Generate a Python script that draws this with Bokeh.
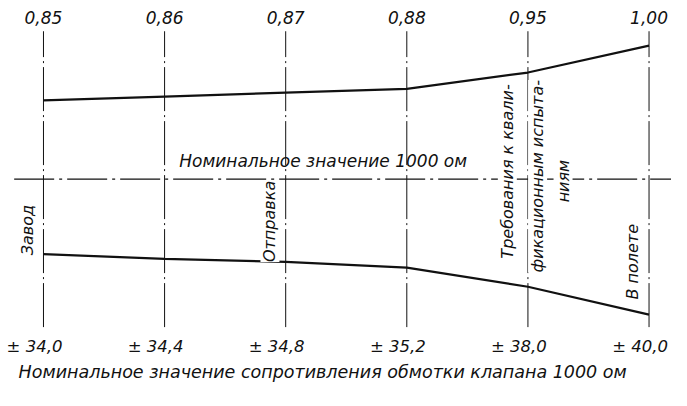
import numpy as np
from bokeh.plotting import figure
from bokeh.models import ColumnDataSource, Range1d
from bokeh.core.properties import value
from bokeh.embed import file_html
from bokeh.resources import INLINE

# ---- data ----
stations = [0, 1, 2, 3, 4, 5]
top_labels = ["0,85", "0,86", "0,87", "0,88", "0,95", "1,00"]
bottom_labels = ["± 34,0", "± 34,4", "± 34,8", "± 35,2", "± 38,0", "± 40,0"]
upper_dev = [82, 86, 90, 94, 111, 139]
lower_dev = [-78, -83, -86, -92, -112, -141]
stage_names = ["Завод", "Отправка", "Требования к квали-", "фикационным испыта-", "ниям", "В полете"]
stage_x = [-0.13, 1.87, 3.83, 4.08, 4.29, 4.86]
stage_y = [-53, -44, 8, 3, -2, -86]
nominal_text = "Номинальное  значение  1000 ом"
title_text = "Номинальное  значение  сопротивления  обмотки  клапана  1000 ом"

FONT = value("DejaVu Sans")
W, H = 671, 390
p = figure(width=W, height=H, output_backend="svg", toolbar_location=None,
           x_range=Range1d(-44 / 124, (687 - 44) / 124), y_range=Range1d(-220, 186),
           min_border=0, outline_line_color=None)
p.axis.visible = False
p.grid.visible = False
p.background_fill_color = "white"

ink = "#111111"
# vertical dash-dot station lines
p.segment(x0=stations, y0=[-154] * 6, x1=stations, y1=[154] * 6,
          line_color=ink, line_width=1, line_dash="44 4 2 4")
# nominal centre line
p.segment(x0=[-0.242], y0=[0], x1=[5.3], y1=[0], line_color=ink, line_width=1.2,
          line_dash="40 5 3 5")
# envelopes
p.line(stations, upper_dev, line_color=ink, line_width=2.2)
p.line(stations, lower_dev, line_color=ink, line_width=2.2)

# station labels
p.text(x=stations, y=[168] * 6, text=top_labels, text_font=FONT, text_font_style="italic",
       text_font_size="17px", text_align="center", text_baseline="middle", text_color=ink)
p.text(x=stations, y=[-174] * 6, text=bottom_labels, text_font=FONT, text_font_style="italic",
       text_font_size="16.5px", text_align="center", text_baseline="middle", text_color=ink,
       x_offset=-9)

# nominal text
p.text(x=[1.121], y=[19], text=[nominal_text], text_font=FONT, text_font_style="italic",
       text_font_size="17px", text_align="left", text_baseline="middle", text_color=ink)

# stage labels (rotated)
src = ColumnDataSource(dict(x=stage_x, y=stage_y, t=stage_names))
p.text(x="x", y="y", text="t", source=src, angle=np.pi / 2, text_font=FONT,
       text_font_style="italic", text_font_size="16px", text_align="center",
       text_baseline="middle", text_color=ink, background_fill_color="white")

# bottom caption
p.text(x=[2.42], y=[-201], text=[title_text], text_font=FONT, text_font_style="italic",
       text_font_size="17.5px", text_align="center", text_baseline="middle", text_color=ink)

open("out.html", "w").write(file_html(p, INLINE))
